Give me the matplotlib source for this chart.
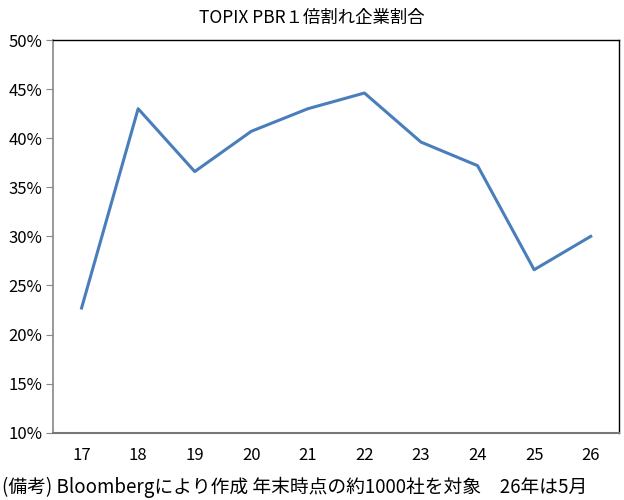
import matplotlib
matplotlib.use("Agg")
import matplotlib.pyplot as plt
from matplotlib.ticker import FuncFormatter

plt.rcParams['font.family'] = ['Noto Sans CJK JP', 'DejaVu Sans']

years = ["17", "18", "19", "20", "21", "22", "23", "24", "25", "26"]
ratio = [22.7, 43.0, 36.6, 40.7, 43.0, 44.6, 39.6, 37.2, 26.6, 30.0]
title = "TOPIX PBR１倍割れ企業割合"
note = "(備考) Bloombergにより作成 年末時点の約1000社を対象　26年は5月"

fig = plt.figure(figsize=(6.24, 5.0), dpi=100)
ax = fig.add_axes([0.0854, 0.1346, 0.9066, 0.7854])
x = list(range(len(years)))
ax.plot(x, ratio, color="#4a7ebb", linewidth=2.2)
ax.set_xlim(-0.5, len(years) - 0.5)
ax.set_ylim(10, 50)
ax.set_yticks(range(10, 51, 5))
ax.yaxis.set_major_formatter(FuncFormatter(lambda v, p: f"{int(v)}%"))
ax.set_xticks(x)
ax.set_xticklabels(years)
ax.tick_params(axis='x', length=0, pad=10, labelsize=12)
ax.tick_params(axis='y', length=5, color="#888888", labelsize=12, pad=3)
for s in ['top', 'right']:
    ax.spines[s].set_color("#000000")
    ax.spines[s].set_linewidth(1.0)
ax.spines['left'].set_color("#888888")
ax.spines['left'].set_linewidth(1.2)
ax.spines['bottom'].set_color("#777777")
ax.spines['bottom'].set_linewidth(1.5)
fig.text(0.5, 0.965, title, ha='center', va='center', fontsize=12.5)
fig.text(0.003, 0.025, note, ha='left', va='center', fontsize=13.5)
fig.savefig("out.png", dpi=100)
